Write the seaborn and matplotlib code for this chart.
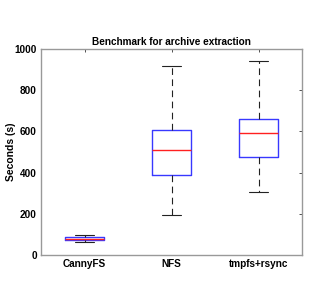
import matplotlib
matplotlib.use("Agg")
import matplotlib.pyplot as plt
import pandas as pd
import seaborn as sns

# five-number summaries (min, q1, median, q3, max)
categories = ["CannyFS", "NFS", "tmpfs+rsync"]
cannyfs_times = [63, 73, 80, 86, 98]
nfs_times = [193, 388, 510, 607, 917]
tmpfs_times = [304, 474, 591, 659, 942]
yticks = [0, 200, 400, 600, 800, 1000]

rows = []
for name, vals in zip(categories, [cannyfs_times, nfs_times, tmpfs_times]):
    for v in vals:
        rows.append({"fs": name, "seconds": v})
df = pd.DataFrame(rows)

sns.set_style("white")
plt.rcParams["font.family"] = ["Liberation Sans", "DejaVu Sans"]
plt.rcParams["text.color"] = "black"
plt.rcParams["axes.labelcolor"] = "black"

fig = plt.figure(figsize=(3.14, 2.90), dpi=100)
ax = fig.add_axes([0.1306, 0.1207, 0.8312, 0.7103])

sns.boxplot(
    data=df, x="fs", y="seconds", order=categories, ax=ax,
    whis=(0, 100), width=0.45, fill=False, showfliers=False,
    boxprops=dict(color="#3838ff", linewidth=1.0),
    medianprops=dict(color="#ff2020", linewidth=1.0),
    whiskerprops=dict(color="#222222", linewidth=0.8, linestyle=(0, (6, 4))),
    capprops=dict(color="#222222", linewidth=0.8),
)

ax.set_xlim(-0.5, 2.5)
ax.set_ylim(0, 1000)
ax.set_yticks(yticks)
ax.set_title("Benchmark for archive extraction", fontsize=7.2, fontweight="bold",
             color="black", pad=3)
ax.set_ylabel("Seconds (s)", fontsize=7.5, fontweight="bold", labelpad=-1)
ax.set_xlabel("")
ax.tick_params(direction="in", length=2.5, width=0.6, top=True, right=True,
               labelsize=7.2, colors="#333333", labelcolor="black", pad=3)
for lab in ax.get_xticklabels() + ax.get_yticklabels():
    lab.set_fontweight("bold")
for s in ax.spines.values():
    s.set_color("#999999")
    s.set_linewidth(1.0)

fig.savefig("out.png", dpi=100)
